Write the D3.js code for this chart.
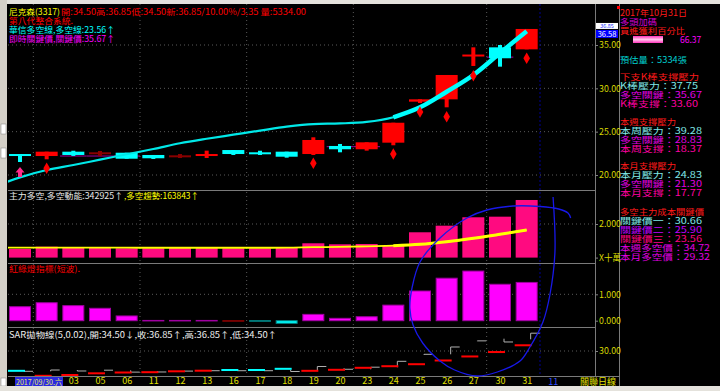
<!DOCTYPE html>
<html><head><meta charset="utf-8">
<script src="https://cdn.jsdelivr.net/npm/d3@7"></script>
<style>html,body{margin:0;padding:0;background:#000;overflow:hidden}svg{display:block}</style>
</head><body>
<svg id="c" width="720" height="391"></svg>
<script>
// ---------------- DATA ----------------
const dates = ["09/30","02","03","05","06","11","12","13","16","17","18","19","20","23","24","25","26","27","30","31"];
const nextMonthLabel = "11";
const cursorLabel = "2017/09/30.六";
const openP  = [22.42,22.19,22.69,22.62,22.57,22.31,22.27,22.35,22.88,22.62,22.69,22.42,23.35,22.97,23.73,28.46,28.73,33.80,34.73,34.50];
const highP  = [22.42,22.69,22.80,22.77,22.57,22.31,22.42,22.81,22.88,22.80,22.69,24.35,23.58,23.77,26.03,28.73,31.54,34.73,35.00,36.85];
const lowP   = [21.50,21.81,22.20,22.19,21.88,21.85,21.96,21.96,22.31,22.31,22.00,22.31,22.62,22.81,23.43,28.31,27.81,32.58,32.50,34.50];
const closeP = [22.19,22.69,22.31,22.62,21.88,21.93,22.27,22.42,22.42,22.42,22.11,24.04,22.97,23.77,26.03,28.73,31.54,33.90,33.47,36.85];
const trendPrev = 18.6;
const trendLine = [19.73,20.58,21.15,21.77,22.39,23.00,23.66,24.18,24.65,25.12,25.58,25.88,25.95,26.12,26.66,27.81,29.61,31.54,34.08,36.58];
const keyPrice  = [null,null,22.19,22.19,22.19,null,null,null,null,null,null,null,23.27,23.27,null,null,null,null,33.6,null];
const dots      = [null,20.77,null,null,null,null,null,null,null,null,null,21.35,null,null,22.42,27.27,26.73,31.46,null,33.47];
const buySignals = [{i:0, price:20.92}];
const mainForce  = [51200,65000,59000,59000,55400,55400,61300,57000,55400,55400,59000,85200,79200,81000,69100,150700,190000,240000,243600,342925];
const forcePrev  = 59000;
const forceTrend = [59000,59000,59000,59000,59000,58500,58500,58500,58500,58500,59000,62000,63700,67300,70900,79200,94700,115000,138800,163843];
const lightSignal = [0.53,0.68,0.57,0.47,0.18,0.01,0.01,0.01,0,-0.02,-0.10,0.24,0.09,0.15,0.59,1.125,1.61,1.88,1.38,1.45];
const sarValues = [22.38,20.46,20.77,21.42,21.73,21.85,22.19,22.42,22.69,22.69,23.15,22.38,22.77,23.54,24.15,24.92,26.35,27.9,29.6,32.2];
const weekBreaks = [0.5,4.5,8.5,12.5,17.5];
const monthBreak = 19.5;
const priceTicks = [20,25,30,35];
const forceTicks = [0,200000];
const lightTicks = [0,1];
const sarTicks = [30];
const circleNote = [[19.99,197],[20.06,252],[19.87,295],[19.61,322],[19.1,348],[18.75,361],[17.9,372],[17.14,376],[16.3,370],[15.75,361],[15.1,343],[14.74,325],[14.62,308],[14.7,288],[15.0,262],[15.75,238],[16.76,218],[17.51,210],[18.49,206],[19.5,206.5],[20.2,209],[20.55,213],[20.65,218]];

const headerLines = [
  [{t:"尼克森(3317)",c:"#ffff00",w:51},{t:"開:34.50高:36.85低:34.50新:36.85/10.00%/3.35 量:5334.00",c:"#ff0000",w:245}],
  [{t:"第八代整合系統.",c:"#ff0000",w:64}],
  [{t:"華信多空線,多空線:23.56↑",c:"#00ffff",w:106}],
  [{t:"即時關鍵價,關鍵價:35.67↑",c:"#ff00ff",w:106}]
];
const infoLines = [
  {t:"2017年10月31日",c:"#ff1a1a",y:16,w:67},
  {t:"多頭加碼",c:"#d000d0",y:25,w:37},
  {t:"買進獲利百分比",c:"#ff1a1a",y:34,w:65},
  {t:"預估量：5334張",c:"#00d0d0",y:63,w:67},
  {t:"下支K棒支撐壓力",c:"#ff1a1a",y:80,w:79},
  {t:"K棒壓力：37.75",c:"#80e8e8",y:89,w:78},
  {t:"多空關鍵：35.67",c:"#e000e0",y:98,w:82},
  {t:"K棒支撐：33.60",c:"#ff00a0",y:107,w:78},
  {t:"本週支撐壓力",c:"#ff1a1a",y:124.5,w:56},
  {t:"本周壓力：39.28",c:"#80e8e8",y:133.5,w:82},
  {t:"多空關鍵：28.83",c:"#e000e0",y:142.5,w:82},
  {t:"本周支撐：18.37",c:"#ff00a0",y:151.5,w:82},
  {t:"本月支撐壓力",c:"#ff1a1a",y:169,w:56},
  {t:"本月壓力：24.83",c:"#80e8e8",y:178,w:82},
  {t:"多空關鍵：21.30",c:"#e000e0",y:187,w:82},
  {t:"本月支撐：17.77",c:"#ff00a0",y:196,w:82},
  {t:"多空主力成本關鍵價",c:"#ff1a1a",y:214.5,w:84},
  {t:"關鍵價一：30.66",c:"#80e8e8",y:223.5,w:82},
  {t:"關鍵價二：25.90",c:"#c000ff",y:232.5,w:82},
  {t:"關鍵價三：23.56",c:"#ff0080",y:241.5,w:82},
  {t:"本週多空價：34.72",c:"#e000e0",y:250.5,w:90},
  {t:"本月多空價：29.32",c:"#e000e0",y:259.5,w:90}
];
const profitPct = "66.37";

// ---------------- LAYOUT ----------------
const FONT = "'Noto Sans CJK TC','Noto Sans CJK SC','Noto Sans',sans-serif";
const FS = "8.5px ";
const L = 8, R = 595, R2 = 619;
const P1 = [4,190], P2 = [190,263], P3 = [263,327], P4 = [327,376];
const svg = d3.select("#c");
const x = d3.scaleLinear().domain([0,19]).range([20,526.67]);
const yP = d3.scaleLinear().domain([20,35]).range([175,45]);
const yF = d3.scaleLinear().domain([0,200000]).range([257.6,224]);
const yL = d3.scaleLinear().domain([0,1]).range([320.7,294.3]);
const yS = d3.scaleLinear().domain([20,30]).range([377,351]);
const BW = 22, half = BW/2;

svg.append("rect").attr("width",720).attr("height",391).attr("fill","#000");
const defs = svg.append("defs");
[["c1",P1],["c2",P2],["c3",P3],["c4",P4]].forEach(([id,p])=>{
  defs.append("clipPath").attr("id",id).append("rect").attr("x",L).attr("y",p[0]).attr("width",R-L).attr("height",p[1]-p[0]);
});
const grad = defs.append("linearGradient").attr("id","pg").attr("x1",0).attr("y1",0).attr("x2",0).attr("y2",1);
grad.append("stop").attr("offset","0%").attr("stop-color","#ff33bb");
grad.append("stop").attr("offset","50%").attr("stop-color","#ffc8ec");
grad.append("stop").attr("offset","100%").attr("stop-color","#ff33bb");

// grid
const grid = svg.append("g").attr("stroke","#5a5a5a").attr("stroke-dasharray","1,3");
weekBreaks.forEach(b=>grid.append("line").attr("x1",x(b)).attr("x2",x(b)).attr("y1",P1[0]).attr("y2",P4[1]));
priceTicks.forEach(v=>grid.append("line").attr("x1",L).attr("x2",R).attr("y1",yP(v)).attr("y2",yP(v)));
grid.append("line").attr("x1",L).attr("x2",R).attr("y1",yF(200000)).attr("y2",yF(200000));
grid.append("line").attr("x1",L).attr("x2",R).attr("y1",yL(1)).attr("y2",yL(1));
sarTicks.forEach(v=>grid.append("line").attr("x1",L).attr("x2",R).attr("y1",yS(v)).attr("y2",yS(v)));
svg.append("line").attr("x1",x(monthBreak)).attr("x2",x(monthBreak)).attr("y1",P1[0]).attr("y2",P4[1])
  .attr("stroke","#000090").attr("stroke-dasharray","2,2");

// separators / frame
const fr = svg.append("g").attr("stroke","#7a7a7a").attr("stroke-width",1);
[P2[0],P3[0],P4[0]].forEach(y=>fr.append("line").attr("x1",L).attr("x2",R).attr("y1",y+0.5).attr("y2",y+0.5));
fr.append("line").attr("x1",L).attr("x2",R2).attr("y1",P4[1]+0.5).attr("y2",P4[1]+0.5);
fr.append("line").attr("x1",R+0.5).attr("x2",R+0.5).attr("y1",4).attr("y2",P4[1]);
fr.append("line").attr("x1",R2+0.5).attr("x2",R2+0.5).attr("y1",4).attr("y2",386);

// ---------------- PANEL 1 ----------------
const g1 = svg.append("g").attr("clip-path","url(#c1)");
keyPrice.forEach((v,i)=>{ if(v==null) return;
  g1.append("line").attr("x1",x(i)-13.3).attr("x2",x(i)+13.3).attr("y1",yP(v)).attr("y2",yP(v)).attr("stroke","#a000a0").attr("stroke-width",1);
});
const dim = new Set([3,6]);
dates.forEach((d,i)=>{
  const o=openP[i], c=closeP[i];
  const col = c>o ? "#ff0000" : c<o ? "#00ffff" : (dim.has(i) ? "#8a0000" : "#ff0000");
  g1.append("rect").attr("x",x(i)-2).attr("width",4).attr("y",yP(highP[i])).attr("height",Math.max(1,yP(lowP[i])-yP(highP[i]))).attr("fill",col);
  const top = yP(Math.max(o,c)), bot = yP(Math.min(o,c));
  g1.append("rect").attr("x",x(i)-half).attr("width",BW).attr("y",top).attr("height",Math.max(2,bot-top)).attr("fill",col);
});
const tl = d3.line().x(d=>x(d[0])).y(d=>yP(d[1])).curve(d3.curveMonotoneX);
const tpts = [[-1,trendPrev]].concat(trendLine.map((v,i)=>[i,v]));
g1.append("path").attr("d",tl(tpts)).attr("fill","none").attr("stroke","#00e8e8").attr("stroke-width",2.2);
g1.append("path").attr("d",tl(tpts.slice(15))).attr("fill","none").attr("stroke","#00ffff").attr("stroke-width",4.5);
dots.forEach((v,i)=>{ if(v==null) return;
  g1.append("path").attr("d",d3.symbol(d3.symbolDiamond,38)()).attr("transform",`translate(${x(i)},${yP(v)})`).attr("fill","#ff0000");
});
buySignals.forEach(s=>{
  const cx=x(s.i), ty=yP(s.price);
  g1.append("path").attr("d",`M${cx},${ty}L${cx+4.5},${ty+5.5}L${cx+2},${ty+5.5}L${cx+2},${ty+10}L${cx-2},${ty+10}L${cx-2},${ty+5.5}L${cx-4.5},${ty+5.5}Z`).attr("fill","#ff2a8a");
});

// ---------------- PANEL 2 ----------------
const g2 = svg.append("g").attr("clip-path","url(#c2)");
mainForce.forEach((v,i)=>{
  g2.append("rect").attr("x",x(i)-half).attr("width",BW).attr("y",yF(v)).attr("height",yF(0)-yF(v)).attr("fill","#ff0a80");
});
const fl = d3.line().x(d=>x(d[0])).y(d=>yF(d[1])).curve(d3.curveMonotoneX);
const fpts = [[-1,forcePrev]].concat(forceTrend.map((v,i)=>[i,v]));
g2.append("path").attr("d",fl(fpts)).attr("fill","none").attr("stroke","#ffff00").attr("stroke-width",1.8);
g2.append("path").attr("d",fl(fpts.slice(15))).attr("fill","none").attr("stroke","#ffff00").attr("stroke-width",3);

// ---------------- PANEL 3 ----------------
const g3 = svg.append("g").attr("clip-path","url(#c3)");
lightSignal.forEach((v,i)=>{
  const y0 = yL(0), y1 = yL(v);
  const col = v>0 ? "#ff00ff" : v<0 ? "#00ffff" : "#8a0000";
  const st = v>0 ? "#a000a0" : v<0 ? "#008080" : "#8a0000";
  g3.append("rect").attr("x",x(i)-half+0.5).attr("width",BW-1).attr("y",Math.min(y0,y1)).attr("height",Math.max(0.5,Math.abs(y1-y0)))
    .attr("fill",col).attr("stroke",st).attr("stroke-width",1);
});

// ---------------- PANEL 4 ----------------
const g4 = svg.append("g").attr("clip-path","url(#c4)");
dates.forEach((d,i)=>{
  const gx = x(i)+4;
  g4.append("line").attr("x1",gx).attr("x2",gx).attr("y1",yS(openP[i])).attr("y2",yS(closeP[i])).attr("stroke","#b0b0b0");
  g4.append("line").attr("x1",gx).attr("x2",gx+9).attr("y1",yS(closeP[i])).attr("y2",yS(closeP[i])).attr("stroke","#b0b0b0");
  const col = sarValues[i] > closeP[i] ? "#00ffff" : "#ff0000";
  g4.append("rect").attr("x",x(i)-12).attr("width",17).attr("y",yS(sarValues[i])-1).attr("height",2).attr("fill",col);
});

// ---------------- AXES ----------------
function rightAxis(scale, vals, fmt){
  const g = svg.append("g").attr("transform",`translate(${R},0)`)
    .call(d3.axisRight(scale).tickValues(vals).tickFormat(fmt).tickSize(3).tickPadding(1));
  g.select(".domain").remove();
  g.selectAll("line").attr("stroke","#808080");
  g.selectAll("text").attr("fill","#d8d800").style("font","9px "+FONT).attr("textLength",22).attr("lengthAdjust","spacingAndGlyphs");
  return g;
}
rightAxis(yP, priceTicks, d3.format(".2f"));
rightAxis(yF, forceTicks, d=> d===0 ? "X十萬" : (d/1e5).toFixed(3));
rightAxis(yL, lightTicks, d3.format(".3f"));
rightAxis(yS, sarTicks, d3.format(".2f"));

// last price markers
const lastC = closeP[closeP.length-1], lastT = trendLine[trendLine.length-1];
const mk = svg.append("g");
mk.append("rect").attr("x",R+1).attr("y",yP(lastC)-6).attr("width",22).attr("height",6).attr("fill","#ffffff");
mk.append("text").attr("x",R+12).attr("y",yP(lastC)-1).attr("text-anchor","middle").attr("fill","#2030ff").style("font","5.5px "+FONT).text(lastC.toFixed(2));
mk.append("rect").attr("x",R+1).attr("y",yP(lastC)+1).attr("width",22).attr("height",8).attr("fill","#0000ff");
mk.append("text").attr("x",R+12).attr("y",yP(lastC)+8).attr("text-anchor","middle").attr("fill","#ffffff").style("font","7.5px "+FONT).text(lastT.toFixed(2));

// date axis (first two labels sit under the cursor label)
const shown = d3.range(2, dates.length);
const xa = svg.append("g").attr("transform",`translate(0,${P4[1]})`)
  .call(d3.axisBottom(x).tickValues(shown).tickFormat(i=>dates[i]).tickSize(0).tickPadding(2));
xa.select(".domain").remove();
xa.selectAll("text").attr("fill","#e0e000").style("font","9px "+FONT);
svg.append("text").attr("x",x(20)).attr("y",P4[1]+9).attr("text-anchor","middle").attr("fill","#3050ff").style("font","9px "+FONT).text(nextMonthLabel);
svg.append("rect").attr("x",15).attr("y",P4[1]+1).attr("width",48).attr("height",9).attr("fill","#2828e0");
svg.append("text").attr("x",16).attr("y",P4[1]+8.5).attr("fill","#e8e860").style("font","8px "+FONT).attr("textLength",46).attr("lengthAdjust","spacingAndGlyphs").text(cursorLabel);
svg.append("text").attr("x",580).attr("y",P4[1]+8.5).attr("fill","#e0e000").style("font","9px "+FONT).attr("textLength",36).attr("lengthAdjust","spacingAndGlyphs").text("關聯日線");

// ---------------- HEADERS ----------------
function hdr(parts,y){ let cx=9; parts.forEach(p=>{ svg.append("text").attr("x",cx).attr("y",y).attr("fill",p.c).style("font",FS+FONT).attr("textLength",p.w).attr("lengthAdjust","spacingAndGlyphs").text(p.t); cx+=p.w+1; }); }
const hy = [15,23.5,33,41.5];
headerLines.forEach((parts,k)=>hdr(parts,hy[k]));
hdr([{t:"主力多空,多空動能:342925↑",c:"#e8e8e8",w:114},{t:",多空趨勢:163843↑",c:"#ffff00",w:75}],198.5);
hdr([{t:"紅綠燈指標(短波).",c:"#ff0000",w:71}],272);
hdr([{t:"SAR拋物線(5,0.02),開:34.50↓,收:36.85↑,高:36.85↑,低:34.50↑",c:"#f0f0f0",w:268}],337.5);

// info panel
const ip = svg.append("g");
infoLines.forEach(l=>{
  ip.append("text").attr("x",620).attr("y",l.y).attr("fill",l.c).style("font",FS+FONT).attr("textLength",l.w).attr("lengthAdjust","spacingAndGlyphs").text(l.t);
});
ip.append("rect").attr("x",633).attr("y",36).attr("width",30).attr("height",7).attr("fill","url(#pg)");
ip.append("text").attr("x",680).attr("y",43).attr("fill","#ff00ff").style("font",FS+FONT).text(profitPct);
ip.append("rect").attr("x",617).attr("y",6).attr("width",3).attr("height",3).attr("fill","#ff0000");

// annotation ellipse
svg.append("path").attr("d",d3.line().x(d=>x(d[0])).y(d=>d[1]).curve(d3.curveCatmullRom)(circleNote))
  .attr("fill","none").attr("stroke","#1818e8").attr("stroke-width",1.3);

// window chrome
svg.append("rect").attr("x",0).attr("y",0).attr("width",720).attr("height",4).attr("fill","#e4e2dc");
svg.append("rect").attr("x",0).attr("y",0).attr("width",L-1).attr("height",391).attr("fill","#d4d0c8");
[[1,124,10],[1,148,10],[1,378,8]].forEach(b=>svg.append("rect").attr("x",b[0]).attr("y",b[1]).attr("width",5).attr("height",b[2]).attr("fill","#ffffff").attr("stroke","#808080").attr("stroke-width",0.5));
svg.append("rect").attr("x",0).attr("y",386).attr("width",720).attr("height",5).attr("fill","#e4e2dc");
</script>
</body></html>
